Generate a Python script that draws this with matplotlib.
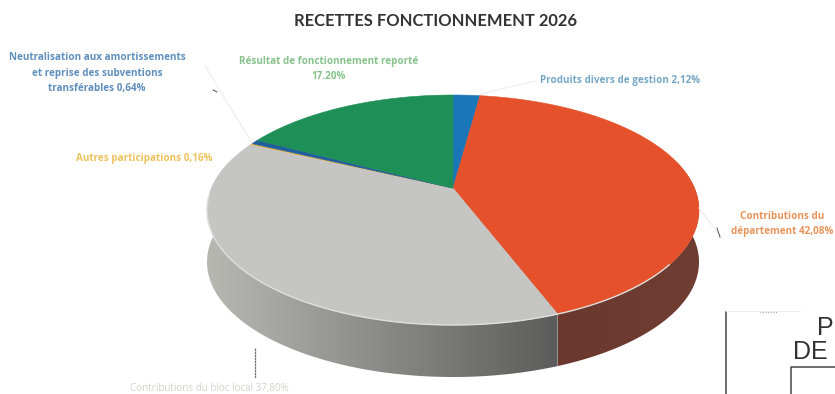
"""Scanned 3D pie: recettes de fonctionnement 2026."""
import numpy as np
import matplotlib

matplotlib.use("Agg")
import matplotlib.pyplot as plt
from matplotlib.patches import Polygon

# clockwise from 12 o'clock
categories = [
    "Produits divers de gestion",
    "Contributions du département",
    "Contributions du bloc local",
    "Autres participations",
    "Neutralisation aux amortissements",
    "Résultat de fonctionnement reporté",
]
shares = [2.12, 42.08, 37.80, 0.16, 0.64, 17.20]
face_colors = ["#1b76b8", "#e4512b", "#c5c5c3", "#e8b23a", "#1f5f9e", "#1f8f58"]

TITLE = "RECETTES FONCTIONNEMENT 2026"

# ellipse of the top face, in pixels
CX, CY, RX, RY = 453, 210, 246, 115
APEX_SHIFT = 0.19  # perspective, the apex sits above the ellipse centre
DEPTH = 52


def project(theta):
    """Clockwise angle from the top on the disc -> pixel position on the face."""
    x, y = np.sin(theta), np.cos(theta)
    w = 1 + APEX_SHIFT * y
    px = x * np.sqrt(1 - APEX_SHIFT ** 2) / w
    py = (y + APEX_SHIFT) / w
    return CX + RX * px, CY - RY * py


def side_wall(ax, t0, t1, left_color, right_color):
    """Horizontal gradient clipped to the extruded band between two angles."""
    xs, ys = project(np.linspace(t0, t1, 200))
    verts = list(zip(xs, ys)) + list(zip(xs[::-1], ys[::-1] + DEPTH))
    band = Polygon(verts, closed=True, facecolor="none", edgecolor="none")
    ax.add_patch(band)
    ramp = np.linspace(0, 1, 256)[None, :, None]
    rgb = np.array(left_color)[None, None, :] * (1 - ramp) + np.array(right_color)[None, None, :] * ramp
    extent = [xs.min(), xs.max(), ys.max() + DEPTH, ys.min()]
    img = ax.imshow(rgb, extent=extent, aspect="auto", interpolation="bilinear", zorder=1)
    img.set_clip_path(band)


fig = plt.figure(figsize=(8.35, 3.94), dpi=100)
ax = fig.add_axes([0, 0, 1, 1])

edges = np.cumsum([0] + shares) / sum(shares) * 2 * np.pi

# visible part of the wall runs between the two side extremes of the ellipse
side_wall(ax, edges[2], 3 * np.pi / 2 + 0.25, (0.72, 0.72, 0.70), (0.36, 0.36, 0.36))
side_wall(ax, np.pi / 2 - 0.25, edges[2], (0.42, 0.22, 0.18), (0.44, 0.24, 0.20))

ax.set_xlim(0, 835)
ax.set_ylim(394, 0)
ax.axis("off")

# top face wedges
apex = (CX, CY - RY * APEX_SHIFT)
for start, end, color in zip(edges[:-1], edges[1:], face_colors):
    n = max(int((end - start) * 80), 2)
    px, py = project(np.linspace(start, end, n))
    verts = [apex] + list(zip(px, py))
    ax.add_patch(Polygon(verts, closed=True, facecolor=color, edgecolor=color,
                         linewidth=0.4, zorder=2))

# pale rim on the grey front edge
rx, ry = project(np.linspace(edges[2] - 0.55, edges[3] - 0.5, 80))
ax.plot(rx, ry, color="#dededc", lw=1.0, solid_capstyle="round", zorder=3)

ax.text(435.5, 21, TITLE, ha="center", va="center", fontsize=11.9, color="#333333",
        family="Lato", weight="bold")

label_font = dict(family="Open Sans", weight="bold", fontsize=7.1, ha="center", va="center")
ax.text(97, 73, "Neutralisation aux amortissements\net reprise des subventions\ntransférables 0,64%",
        color="#5f8fbd", linespacing=1.55, **label_font)
ax.text(329, 69, "Résultat de fonctionnement reporté\n17.20%", color="#86c28a",
        linespacing=1.55, **label_font)
ax.text(620, 80, "Produits divers de gestion 2,12%", color="#76a8c6", **label_font)
ax.text(144, 158, "Autres participations 0,16%", color="#eec25a", **label_font)
ax.text(782, 224, "Contributions du\ndépartement 42,08%", color="#e8945a",
        linespacing=1.55, **label_font)
ax.text(209, 388, "Contributions du bloc local 37,80%", color="#d2d2d0", family="Open Sans",
        fontsize=7.1, ha="center", va="center")

# leader lines, nearly lost in the scan
ax.plot([205, 252], [66, 143], color="#ececec", lw=0.8)
ax.plot([213, 217], [90, 92], color="#555555", lw=0.7)
ax.plot([480, 535], [94, 81], color="#ececec", lw=0.8)
ax.plot([699, 722], [208, 238], color="#ececec", lw=0.8)
ax.plot([717, 720], [228, 237], color="#555555", lw=0.7)
ax.plot([254.5, 254.5], [348, 378], color="#777777", lw=0.9, ls=(0, (2, 0.4)))

# bit of the next document caught in the scan, bottom right
ax.plot([726, 726], [312, 394], color="#555555", lw=1.2)
ax.plot([726, 800], [311, 311], color="#eeeeee", lw=0.8)
ax.plot([760, 778], [312, 312], color="#999999", lw=0.7, ls=":")
ax.plot([791, 791, 835], [394, 367, 367], color="#555555", lw=1.2)
ax.text(817, 328, "P", fontsize=18, color="#333333", family="Liberation Sans", va="center")
ax.text(793, 352, "DE", fontsize=18, color="#333333", family="Liberation Sans", va="center")

fig.savefig("out.png", dpi=100)
